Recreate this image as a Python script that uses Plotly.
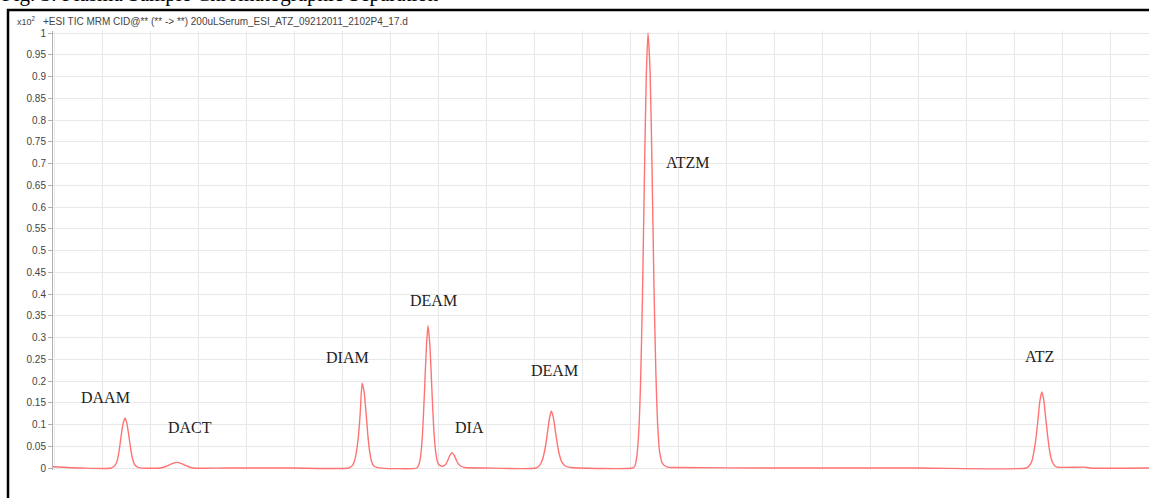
import plotly.graph_objects as go

# Retention time (min) and abundance (x10^2 counts)
rt = [
    0.00, 0.30, 0.61, 0.65, 0.67, 0.69, 0.71, 0.73, 0.75, 0.77, 0.79, 0.81, 0.83, 0.85, 0.89,
    1.12, 1.18, 1.23, 1.27, 1.29, 1.31, 1.35, 1.40, 1.46,
    1.80, 2.50, 3.08, 3.12, 3.14, 3.16, 3.18, 3.20, 3.22, 3.24, 3.26, 3.28, 3.30, 3.32, 3.34, 3.38,
    3.79, 3.81, 3.83, 3.85, 3.87, 3.89, 3.906, 3.925, 3.945, 3.965, 3.985, 4.005, 4.03,
    4.06, 4.09, 4.11, 4.13, 4.156, 4.18, 4.20, 4.22, 4.25, 4.29, 4.50,
    5.03, 5.07, 5.10, 5.13, 5.15, 5.17, 5.19, 5.21, 5.23, 5.25, 5.27, 5.30, 5.34, 5.40,
    6.04, 6.06, 6.08, 6.10, 6.12, 6.14, 6.16, 6.18, 6.198, 6.22, 6.24, 6.26, 6.28, 6.30, 6.32,
    6.35, 6.40, 6.50,
    7.50, 9.00, 10.14, 10.17, 10.20, 10.22, 10.24, 10.26, 10.28, 10.30, 10.32, 10.34, 10.36,
    10.38, 10.40, 10.43, 10.46, 10.75, 10.80, 11.417,
]
abundance = [
    0.003, 0.000, 0.000, 0.007, 0.018, 0.041, 0.074, 0.102, 0.115, 0.102, 0.074, 0.043, 0.020, 0.008, 0.001,
    0.000, 0.004, 0.009, 0.0125, 0.013, 0.0125, 0.009, 0.004, 0.000,
    0.000, 0.000, 0.000, 0.006, 0.016, 0.036, 0.070, 0.125, 0.195, 0.176, 0.130, 0.075, 0.036, 0.014, 0.005, 0.001,
    0.000, 0.007, 0.028, 0.082, 0.177, 0.280, 0.327, 0.285, 0.190, 0.095, 0.040, 0.014, 0.006,
    0.004, 0.008, 0.016, 0.027, 0.035, 0.029, 0.019, 0.010, 0.004, 0.001, 0.000,
    0.000, 0.006, 0.020, 0.050, 0.080, 0.112, 0.131, 0.118, 0.090, 0.060, 0.035, 0.014, 0.004, 0.001,
    0.000, 0.004, 0.024, 0.076, 0.190, 0.390, 0.660, 0.900, 1.000, 0.910, 0.690, 0.420, 0.220, 0.095, 0.036,
    0.010, 0.002, 0.001,
    0.000, 0.000, 0.000, 0.005, 0.018, 0.040, 0.070, 0.110, 0.153, 0.175, 0.157, 0.117, 0.076,
    0.042, 0.020, 0.006, 0.002, 0.002, 0.000, 0.000,
]

# Peak labels
peak_names = ["DAAM", "DACT", "DIAM", "DEAM", "DIA", "DEAM", "ATZM", "ATZ"]
label_rt = [0.55, 1.43, 3.07, 3.96, 4.34, 5.22, 6.61, 10.28]
label_y = [0.161, 0.092, 0.255, 0.386, 0.092, 0.223, 0.703, 0.257]

y_ticks = [round(i * 0.05, 2) for i in range(21)]
y_tick_text = ["0", "0.05", "0.1", "0.15", "0.2", "0.25", "0.3", "0.35", "0.4", "0.45", "0.5",
               "0.55", "0.6", "0.65", "0.7", "0.75", "0.8", "0.85", "0.9", "0.95", "1"]

fig = go.Figure()
fig.add_trace(go.Scatter(
    x=rt, y=abundance, mode="lines",
    line=dict(color="rgb(255,115,115)", width=1.4, shape="spline", smoothing=0.6),
    hoverinfo="x+y", showlegend=False,
))

annotations = []
for name, xr, yv in zip(peak_names, label_rt, label_y):
    annotations.append(dict(
        x=xr, y=yv, xref="x", yref="y", text=name, showarrow=False,
        font=dict(family="Liberation Serif", size=16, color="#222"),
        xanchor="center", yanchor="middle",
    ))

W, H = 1149, 498
L, R, T, B = 53, 0, 31, 28
pw, ph = W - L - R, H - T - B

def px_x(p):
    return (p - L) / pw

def px_y(p):
    return 1 - (p - T) / ph

annotations.append(dict(
    x=px_x(0), y=px_y(-5.5), xref="paper", yref="paper", xanchor="left", yanchor="middle",
    text="Fig. 3: Plasma Sample Chromatographic Separation", showarrow=False,
    font=dict(family="Liberation Serif", size=21, color="#000"),
))
annotations.append(dict(
    x=px_x(15), y=px_y(21), xref="paper", yref="paper", xanchor="left", yanchor="middle",
    text="x10<sup>2</sup>", showarrow=False,
    font=dict(family="Liberation Sans", size=9, color="#444"),
))
annotations.append(dict(
    x=px_x(41), y=px_y(21), xref="paper", yref="paper", xanchor="left", yanchor="middle",
    text="+ESI TIC MRM CID@** (** -> **) 200uLSerum_ESI_ATZ_09212011_2102P4_17.d", showarrow=False,
    font=dict(family="Liberation Sans", size=10, color="#444"),
))

shapes = [dict(
    type="rect", xref="paper", yref="paper",
    x0=px_x(8), x1=px_x(1153), y0=px_y(502), y1=px_y(10),
    line=dict(color="#000", width=2.5), fillcolor="rgba(0,0,0,0)", layer="above",
)]

fig.update_layout(
    width=W, height=H,
    margin=dict(l=L, r=R, t=T, b=B),
    paper_bgcolor="white", plot_bgcolor="white",
    annotations=annotations, shapes=shapes,
    xaxis=dict(
        range=[0, 11.417], tick0=0.02, dtick=0.5, showgrid=True, gridcolor="#e8e8e8", gridwidth=1,
        showticklabels=False, ticks="", zeroline=False, showline=False,
    ),
    yaxis=dict(
        range=[-0.0046, 1.0046], tickvals=y_ticks, ticktext=y_tick_text,
        showgrid=True, gridcolor="#e8e8e8", gridwidth=1, zeroline=False,
        showline=True, linecolor="#b0b0b0", linewidth=1,
        ticks="outside", ticklen=4, tickcolor="#b0b0b0",
        tickfont=dict(family="Liberation Sans", size=10, color="#444"),
    ),
)

fig.write_html(
    "out.html",
    config={"displayModeBar": False},
    post_script="document.body.style.margin='0';document.body.style.overflow='hidden';",
)
